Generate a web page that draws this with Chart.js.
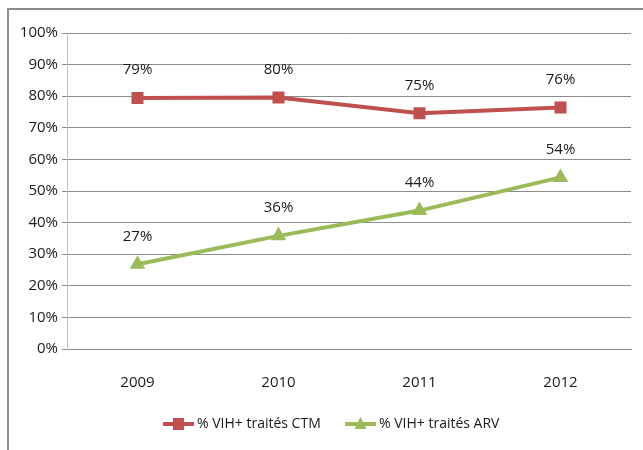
<!DOCTYPE html>
<html>
<head>
<meta charset="utf-8">
<script src="https://cdn.jsdelivr.net/npm/chart.js@4.4.0/dist/chart.umd.min.js"></script>
<style>
  html, body { margin: 0; padding: 0; background: #fff; }
  #wrap { width: 643px; height: 450px; position: relative; }
</style>
</head>
<body>
<div id="wrap"><canvas id="chart" width="643" height="450"></canvas></div>
<script>
// Données
const years = ['2009', '2010', '2011', '2012'];
const ctmValues = [79.4, 79.6, 74.6, 76.4];
const arvValues = [26.8, 35.8, 43.8, 54.3];
const yTicks = [0, 10, 20, 30, 40, 50, 60, 70, 80, 90, 100];

const seriesNames = ['% VIH+ traités CTM', '% VIH+ traités ARV'];
const RED = '#C0504D';
const GREEN = '#9BBB59';
const TEXT = '#1a1a1a';
const FONT = '"Open Sans", sans-serif';

// Étiquettes de valeurs au-dessus des points
const valueLabels = {
    id: 'valueLabels',
    afterDatasetsDraw(chart) {
        const c = chart.ctx;
        c.save();
        c.font = '15px ' + FONT;
        c.fillStyle = TEXT;
        c.textAlign = 'center';
        c.textBaseline = 'middle';
        chart.data.datasets.forEach((ds, i) => {
            chart.getDatasetMeta(i).data.forEach((pt, j) => {
                c.fillText(Math.round(ds.data[j]) + '%', pt.x, pt.y - 28);
            });
        });
        c.restore();
    }
};

// Cadre et légende
const frameLegend = {
    id: 'frameLegend',
    afterDraw(chart) {
        const c = chart.ctx;
        c.save();
        c.strokeStyle = '#8c8c8c';
        c.lineWidth = 2;
        c.beginPath();
        c.moveTo(8, 460);
        c.lineTo(8, 9);
        c.lineTo(660, 9);
        c.stroke();

        const y = 424;
        const items = [
            { x: 163, color: RED, style: 'rect', label: seriesNames[0] },
            { x: 345, color: GREEN, style: 'triangle', label: seriesNames[1] }
        ];
        items.forEach(it => {
            c.strokeStyle = it.color;
            c.lineWidth = 4;
            c.beginPath();
            c.moveTo(it.x, y);
            c.lineTo(it.x + 31, y);
            c.stroke();
            c.fillStyle = it.color;
            const mx = it.x + 15.5;
            if (it.style === 'rect') {
                c.fillRect(mx - 5.5, y - 6, 11, 12);
            } else {
                c.beginPath();
                c.moveTo(mx, y - 7);
                c.lineTo(mx + 6, y + 5);
                c.lineTo(mx - 6, y + 5);
                c.closePath();
                c.fill();
            }
            c.fillStyle = TEXT;
            c.font = '14px ' + FONT;
            c.textAlign = 'left';
            c.textBaseline = 'middle';
            c.fillText(it.label, it.x + 34, y);
        });
        c.restore();
    }
};

new Chart(document.getElementById('chart'), {
    type: 'line',
    data: {
        labels: years,
        datasets: [
            {
                label: seriesNames[0],
                data: ctmValues,
                borderColor: RED,
                backgroundColor: RED,
                borderWidth: 4,
                pointStyle: 'rect',
                pointRadius: 8.5,
                pointBorderWidth: 0,
                tension: 0
            },
            {
                label: seriesNames[1],
                data: arvValues,
                borderColor: GREEN,
                backgroundColor: GREEN,
                borderWidth: 4,
                pointStyle: 'triangle',
                pointRadius: 9,
                pointBorderWidth: 0,
                tension: 0
            }
        ]
    },
    options: {
        responsive: false,
        animation: false,
        layout: { padding: { left: 0, top: 33, right: 12, bottom: 0 } },
        scales: {
            x: {
                offset: true,
                grid: { display: false },
                border: { color: '#8c8c8c', width: 1 },
                ticks: { color: TEXT, font: { size: 15, family: FONT }, padding: 17 },
                afterFit(scale) { scale.height = 101; }
            },
            y: {
                min: 0,
                max: 100,
                afterBuildTicks(scale) { scale.ticks = yTicks.map(v => ({ value: v })); },
                grid: { color: '#8c8c8c', tickLength: 5, tickColor: '#8c8c8c' },
                border: { color: '#bfbfbf', width: 1 },
                ticks: {
                    color: TEXT,
                    font: { size: 15, family: FONT },
                    padding: 4,
                    callback: v => v + '%'
                },
                afterFit(scale) { scale.width = 67; }
            }
        },
        plugins: {
            legend: { display: false },
            tooltip: { enabled: false }
        }
    },
    plugins: [valueLabels, frameLegend]
});
</script>
</body>
</html>
